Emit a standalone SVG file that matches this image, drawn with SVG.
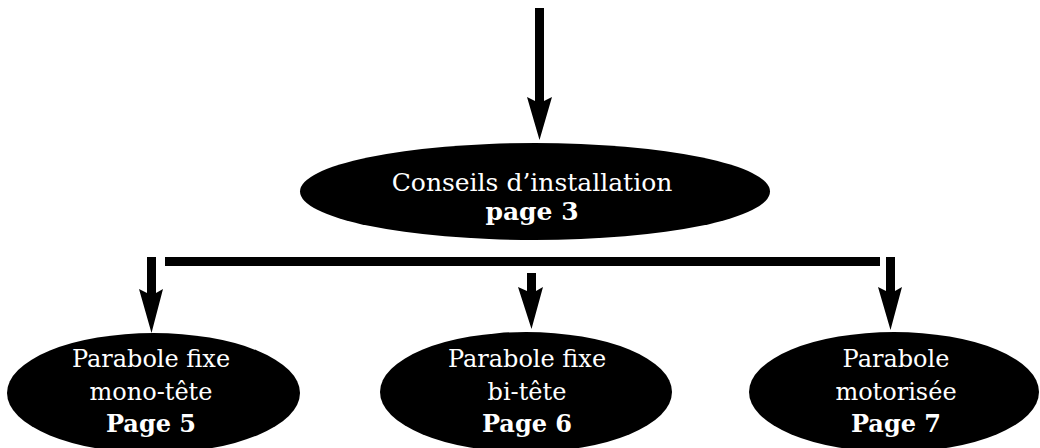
<svg xmlns="http://www.w3.org/2000/svg" width="1040" height="448" viewBox="0 0 1040 448">
<style>
.node{fill:#000;}
.lbl{font-family:"DejaVu Serif","Liberation Serif",serif;fill:#fff;text-anchor:middle;}
.top{font-size:25px;}
.sub{font-size:24px;}
.b{font-weight:bold;}
.conn{fill:#000;}
</style>
<rect width="1040" height="448" fill="#fff"/>
<g id="connectors" class="conn">
<polygon points="535,8 544,8 544,101 552,97 539.5,140 527,97 535,101"/>
<rect x="165" y="257" width="715" height="9"/>
<polygon points="147,257 156,257 156,293 163,289 151.5,333 139,289 147,293"/>
<polygon points="527,273 536,273 536,291 543,287 531.5,329 518,287 527,291"/>
<polygon points="886,257 895,257 895,291 902,287 890.5,330 878,287 886,291"/>
</g>
<g id="node-conseils">
<ellipse class="node" cx="535" cy="191.5" rx="235" ry="48.5"/>
<text class="lbl top" x="532" y="191">Conseils d’installation</text>
<text class="lbl top b" x="532" y="220">page 3</text>
</g>
<g id="node-mono">
<ellipse class="node" cx="153.5" cy="393" rx="146.5" ry="60"/>
<text class="lbl sub" x="151" y="367">Parabole fixe</text>
<text class="lbl sub" x="151" y="400">mono-tête</text>
<text class="lbl sub b" x="151" y="432">Page 5</text>
</g>
<g id="node-bi">
<ellipse class="node" cx="526" cy="392" rx="146" ry="60"/>
<text class="lbl sub" x="527" y="367">Parabole fixe</text>
<text class="lbl sub" x="527" y="400">bi-tête</text>
<text class="lbl sub b" x="527" y="432">Page 6</text>
</g>
<g id="node-moto">
<ellipse class="node" cx="894" cy="392" rx="145" ry="60"/>
<text class="lbl sub" x="896" y="367">Parabole</text>
<text class="lbl sub" x="896" y="400">motorisée</text>
<text class="lbl sub b" x="896" y="432">Page 7</text>
</g>
</svg>
